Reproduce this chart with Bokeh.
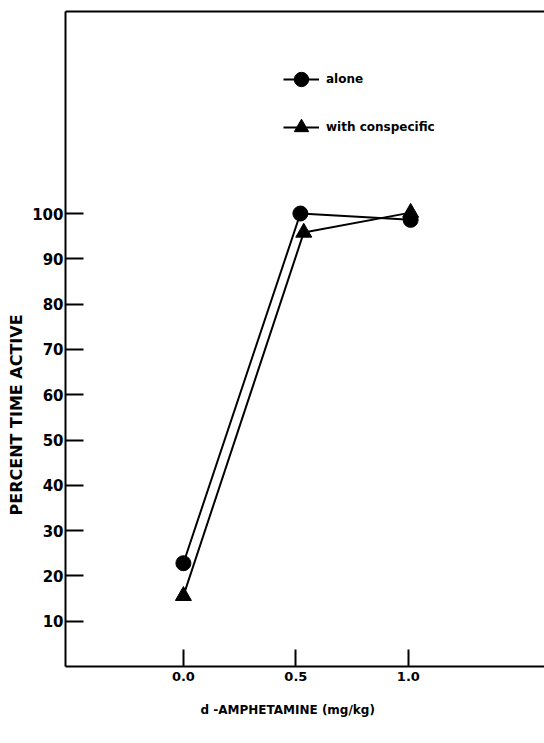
from bokeh.plotting import figure
from bokeh.models import (Range1d, FixedTicker, LinearAxis, Legend, LegendItem,
                          Title)
from bokeh.embed import file_html
from bokeh.resources import INLINE

# ---- data ----
dose_alone = [0.0, 0.52, 1.01]
pct_alone = [22.8, 100.0, 98.6]
dose_consp = [0.0, 0.535, 1.01]
pct_consp = [15.6, 95.8, 100.2]

x_ticks = [0.0, 0.5, 1.0]
x_tick_labels = ["0.0", "0.5", "1.0"]
y_ticks = [10, 20, 30, 40, 50, 60, 70, 80, 90, 100]

series_names = ["alone", "with conspecific"]
x_title = "d -AMPHETAMINE (mg/kg)"
y_title = "PERCENT TIME ACTIVE"

FONT = "DejaVu Sans"

p = figure(width=544, height=743, output_backend="svg", toolbar_location=None,
           x_range=Range1d(-0.524, 1.605), y_range=Range1d(0, 144.6),
           min_border_left=65, min_border_right=0, min_border_top=11,
           min_border_bottom=77)
p.grid.visible = False
p.outline_line_color = None
p.background_fill_color = "white"

# x axis
xa = p.xaxis[0]
xa.ticker = FixedTicker(ticks=x_ticks)
xa.major_label_overrides = {t: l for t, l in zip(x_ticks, x_tick_labels)}
xa.major_tick_in = 17
xa.major_tick_out = 0
xa.minor_tick_line_color = None
xa.axis_line_width = 2
xa.major_tick_line_width = 2
xa.major_label_text_font = FONT
xa.major_label_text_font_style = "bold"
xa.major_label_text_font_size = "13px"
xa.major_label_text_color = "black"
xa.major_label_standoff = 5

# y axis
ya = p.yaxis[0]
ya.ticker = FixedTicker(ticks=y_ticks)
ya.major_tick_in = 18
ya.major_tick_out = 0
ya.minor_tick_line_color = None
ya.axis_line_width = 2
ya.major_tick_line_width = 2
ya.major_label_text_font = FONT
ya.major_label_text_font_style = "bold"
ya.major_label_text_font_size = "15px"
ya.major_label_text_color = "black"
ya.major_label_standoff = 2

# top border line
top = LinearAxis(ticker=FixedTicker(ticks=[]), axis_line_width=2,
                 major_tick_line_color=None, minor_tick_line_color=None,
                 major_label_text_font_size="0px", major_label_standoff=0)
p.add_layout(top, "above")

# data
l1 = p.line(dose_alone, pct_alone, line_width=2, color="black")
s1 = p.scatter(dose_alone, pct_alone, marker="circle", size=15, color="black")
l2 = p.line(dose_consp, pct_consp, line_width=2, color="black")
s2 = p.scatter(dose_consp, pct_consp, marker="triangle", size=16, color="black")

legend = Legend(items=[LegendItem(label=series_names[0], renderers=[l1, s1]),
                       LegendItem(label=series_names[1], renderers=[l2, s2])],
                location=(218, 521), glyph_width=36, glyph_height=36,
                spacing=12, padding=0, margin=0, border_line_color=None,
                background_fill_alpha=0, label_text_font=FONT,
                label_text_font_style="bold", label_text_font_size="12px",
                label_text_color="black", label_standoff=7)
p.add_layout(legend)

# axis titles
p.add_layout(Title(text=x_title, align="left", offset=135, standoff=35,
                   text_font=FONT, text_font_style="bold",
                   text_font_size="12px", text_color="black"), "below")
p.add_layout(Title(text=y_title, align="left", offset=151, standoff=8,
                   text_font=FONT, text_font_style="bold",
                   text_font_size="16px", text_color="black"), "left")

open("out.html", "w").write(file_html(p, INLINE))
